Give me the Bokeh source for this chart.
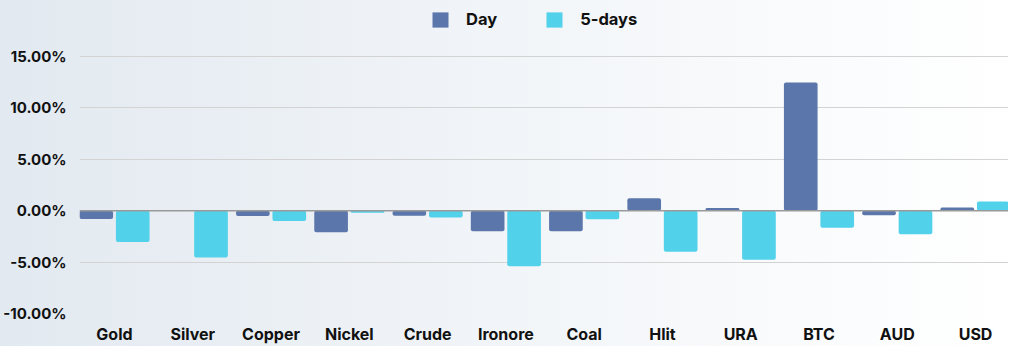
from bokeh.plotting import figure
from bokeh.models import ColumnDataSource, FixedTicker, PrintfTickFormatter, Legend, LegendItem, Span, Range1d
from bokeh.transform import dodge
from bokeh.embed import file_html
from bokeh.resources import INLINE

categories = ["Gold", "Silver", "Copper", "Nickel", "Crude", "Ironore", "Coal", "Hlit", "URA", "BTC", "AUD", "USD"]
day = [-0.80, 0.0, -0.51, -2.10, -0.48, -2.00, -2.00, 1.20, 0.26, 12.47, -0.45, 0.30]
five_days = [-3.05, -4.54, -1.00, -0.20, -0.65, -5.40, -0.83, -4.00, -4.77, -1.67, -2.30, 0.90]
y_ticks = [-10, -5, 0, 5, 10, 15]

DAY_COLOR = "#5a76ab"
FIVE_COLOR = "#52d1ea"
FONT = "Inter"

src = ColumnDataSource(dict(x=list(range(len(categories))), day=day, five=five_days))

# extra headroom above 15% holds the legend inside the frame
p = figure(width=1008, height=346, output_backend="svg", toolbar_location=None,
           x_range=Range1d(-0.447, len(categories) - 1 + 0.421),
           y_range=Range1d(-10, 20.45),
           min_border_left=78, min_border_right=0, min_border_top=0, min_border_bottom=33)

p.background_fill_alpha = 0
p.border_fill_alpha = 0
p.outline_line_color = None
p.styles = {"background-image": "linear-gradient(to right, #e2e9f0 0%, #f3f6f9 55%, #ffffff 100%)"}

r1 = p.vbar(x=dodge("x", -0.233, range=p.x_range), top="day", bottom=0, width=0.43, source=src,
            fill_color=DAY_COLOR, line_color=None, border_radius=2)
r2 = p.vbar(x=dodge("x", 0.233, range=p.x_range), top="five", bottom=0, width=0.43, source=src,
            fill_color=FIVE_COLOR, line_color=None, border_radius=2)

p.add_layout(Span(location=0, dimension="width", line_color="#9a9a9a", line_width=1.5))

p.xgrid.grid_line_color = None
p.ygrid.grid_line_color = "#d3d3d3"
p.ygrid.grid_line_width = 1
p.ygrid.ticker = FixedTicker(ticks=y_ticks)

p.yaxis.ticker = FixedTicker(ticks=y_ticks)
p.yaxis.formatter = PrintfTickFormatter(format="%.2f%%")
p.xaxis.ticker = FixedTicker(ticks=list(range(len(categories))))
p.xaxis.major_label_overrides = {i: c for i, c in enumerate(categories)}

for ax in (p.xaxis[0], p.yaxis[0]):
    ax.axis_line_color = None
    ax.major_tick_line_color = None
    ax.minor_tick_line_color = None
    ax.major_tick_out = 0
    ax.major_tick_in = 0
    ax.minor_tick_out = 0
    ax.minor_tick_in = 0
    ax.major_label_text_font = FONT
    ax.major_label_text_font_style = "bold"
    ax.major_label_text_color = "#111111"
p.xaxis.major_label_text_font_size = "16px"
p.yaxis.major_label_text_font_size = "15px"
p.yaxis.major_label_standoff = 13
p.xaxis.major_label_standoff = 10

legend = Legend(items=[LegendItem(label="Day", renderers=[r1]), LegendItem(label="5-days", renderers=[r2])],
                orientation="horizontal", location=(351, 284),
                glyph_width=20, glyph_height=19, label_standoff=16, spacing=47,
                label_text_font=FONT, label_text_font_style="bold", label_text_font_size="16.5px",
                label_text_color="#111111", border_line_color=None, background_fill_alpha=0,
                padding=0, margin=0)
p.add_layout(legend)

open("out.html", "w").write(file_html(p, INLINE))
